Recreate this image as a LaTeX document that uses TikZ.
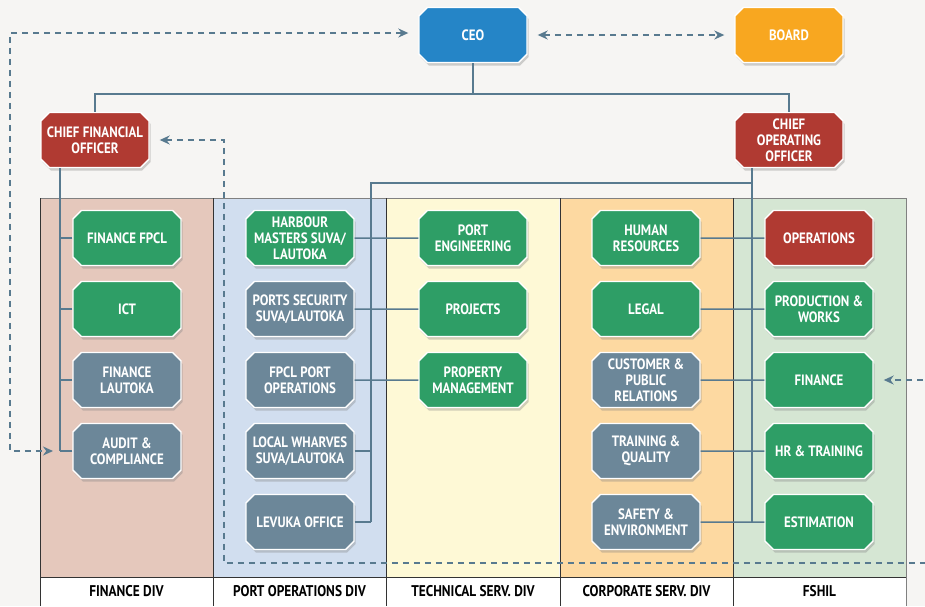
\documentclass[tikz,border=0pt]{standalone}
\usepackage{fontspec}
\setmainfont{PT Sans}[FakeStretch=0.86]
\usetikzlibrary{shapes.misc,shadows,arrows.meta}
\definecolor{paper}{HTML}{F6F5F3}
\definecolor{linkcol}{HTML}{587A8F}
\definecolor{ceoblue}{HTML}{2585C7}
\definecolor{boardorange}{HTML}{F8A720}
\definecolor{chiefred}{HTML}{B03A32}
\definecolor{unitgreen}{HTML}{2E9E66}
\definecolor{unitgray}{HTML}{6C8799}
\definecolor{findiv}{HTML}{E5C8BC}
\definecolor{portdiv}{HTML}{D1DEEF}
\definecolor{techdiv}{HTML}{FEF9D6}
\definecolor{corpdiv}{HTML}{FDD9A1}
\definecolor{fshildiv}{HTML}{D5E6D3}
\begin{document}
\begin{tikzpicture}[x=1pt,y=-1pt,
  box/.style={chamfered rectangle,chamfered rectangle xsep=5pt,draw=white,line width=1.4pt,
    minimum width=108pt,minimum height=55pt,inner sep=0pt,text=white,align=center,
    font=\bfseries\fontsize{15}{16}\selectfont,
    drop shadow={shadow xshift=1.5pt,shadow yshift=-3pt,opacity=.35}},
  link/.style={linkcol,line width=1.5pt},
  dashlink/.style={linkcol,line width=1.5pt,dash pattern=on 6pt off 5pt,
    {Stealth[length=10pt,width=9pt]}-{Stealth[length=10pt,width=9pt]}},
  divlabel/.style={font=\bfseries\fontsize{15.5}{16}\selectfont}]
\clip (0,0) rectangle (925,606);
\fill[paper] (0,0) rectangle (925,606);
\foreach \x/\c in {40/findiv,213/portdiv,386/techdiv,560/corpdiv,733/fshildiv}
  \fill[\c] (\x,198) rectangle ++(173,379);
\fill[white] (40,577) rectangle (906,606);
\draw[gray,line width=1pt] (40,198) -- (906,198) -- (906,606);
\draw[black!80,line width=1pt] (40,606) -- (40,198);
\foreach \x in {213,386,560,733} \draw[black!80,line width=1pt] (\x,198) -- (\x,606);
\draw[black!80,line width=1pt] (40,577) -- (906,577);
\node[divlabel] (l1) at (126.5,591) {FINANCE DIV};
\node[divlabel] (l2) at (299.5,591) {PORT OPERATIONS DIV};
\node[divlabel] (l3) at (473,591) {TECHNICAL SERV. DIV};
\node[divlabel] (l4) at (646.5,591) {CORPORATE SERV. DIV};
\node[divlabel] (l5) at (819.5,591) {FSHIL};

\node[box,fill=ceoblue] (ceo) at (473,35) {CEO};
\node[box,fill=boardorange] (board) at (789,35) {BOARD};
\node[box,fill=chiefred] (cfo) at (95,140) {CHIEF FINANCIAL\\OFFICER};
\node[box,fill=chiefred] (coo) at (789,140) {CHIEF\\OPERATING\\OFFICER};

\foreach \n/\c/\t in {1/unitgreen/{FINANCE FPCL},2/unitgreen/ICT,3/unitgray/{FINANCE\\LAUTOKA},4/unitgray/{AUDIT \&\\COMPLIANCE}}
  \node[box,fill=\c] (fi\n) at (127,{167+71*\n}) {\t};
\foreach \n/\c/\t in {1/unitgreen/{HARBOUR\\MASTERS SUVA/\\LAUTOKA},2/unitgray/{PORTS SECURITY\\SUVA/LAUTOKA},3/unitgray/{FPCL PORT\\OPERATIONS},4/unitgray/{LOCAL WHARVES\\SUVA/LAUTOKA},5/unitgray/{LEVUKA OFFICE}}
  \node[box,fill=\c] (po\n) at (300,{167+71*\n}) {\t};
\foreach \n/\c/\t in {1/unitgreen/{PORT\\ENGINEERING},2/unitgreen/PROJECTS,3/unitgreen/{PROPERTY\\MANAGEMENT}}
  \node[box,fill=\c] (te\n) at (473,{167+71*\n}) {\t};
\foreach \n/\c/\t in {1/unitgreen/{HUMAN\\RESOURCES},2/unitgreen/LEGAL,3/unitgray/{CUSTOMER \&\\PUBLIC\\RELATIONS},4/unitgray/{TRAINING \&\\QUALITY},5/unitgray/{SAFETY \&\\ENVIRONMENT}}
  \node[box,fill=\c] (cs\n) at (646,{167+71*\n}) {\t};
\foreach \n/\c/\t in {1/chiefred/OPERATIONS,2/unitgreen/{PRODUCTION \&\\WORKS},3/unitgreen/FINANCE,4/unitgreen/{HR \& TRAINING},5/unitgreen/ESTIMATION}
  \node[box,fill=\c] (fs\n) at (819,{167+71*\n}) {\t};

\coordinate (top) at (473,94);
\coordinate (fbus) at (60,451);
\coordinate (ctop) at (752,183);
\coordinate (ptop) at (371,183);
\coordinate (cbus) at (752,522);
\coordinate (pbus) at (371,522);
\draw[link] (ceo) -- (top);
\draw[link] (cfo.north) |- (top) -| (coo.north);
\draw[link] (cfo.south -| fbus) -- (fbus);
\foreach \n in {1,...,4} \draw[link] (fi\n.west) -- (fi\n.west -| fbus);
\draw[link] (coo.south -| ctop) -- (cbus);
\draw[link] (ctop) -- (ptop) -- (pbus);
\foreach \n in {1,...,5} \draw[link] (cs\n) -- (fs\n);
\foreach \n in {1,...,3} \draw[link] (po\n) -- (te\n);
\foreach \n in {4,5} \draw[link] (po\n.east) -- (po\n.east -| pbus);

\draw[dashlink] ([xshift=-10pt,yshift=2pt]ceo.west) -| (10,451) -- ([xshift=-7pt]fbus);
\draw[dashlink] ([xshift=10pt]cfo.east) -- (224,140) -- (224,563) -- (940,563) -- (940,380) -- ([xshift=10pt]fs3.east);
\draw[dashlink] ([xshift=10pt]ceo.east) -- ([xshift=-10pt]board.west);
\end{tikzpicture}
\end{document}
